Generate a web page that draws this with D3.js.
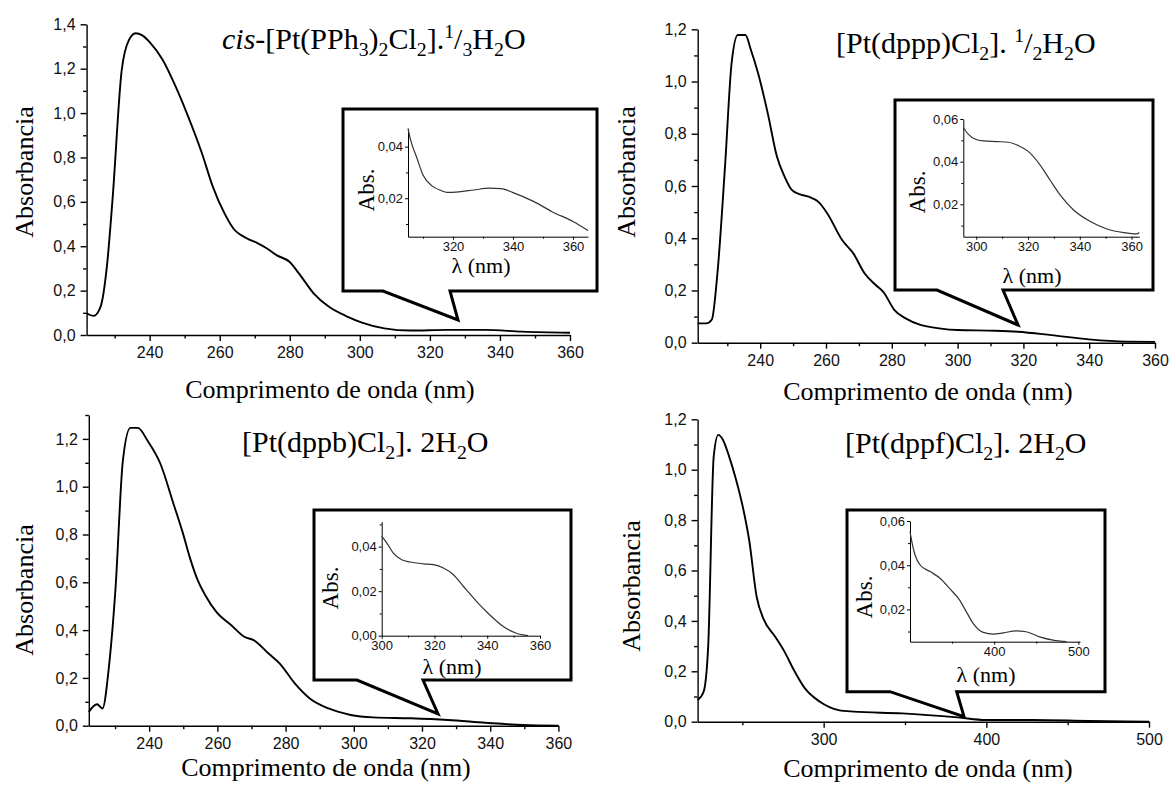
<!DOCTYPE html>
<html>
<head>
<meta charset="utf-8">
<script src="https://cdn.jsdelivr.net/npm/d3@7"></script>
<style>
  html, body { margin: 0; padding: 0; background: #ffffff; }
  svg { display: block; }
</style>
</head>
<body>
<svg id="chart" width="1170" height="785"></svg>
<script>
// ---------------- DATA ----------------
// Panel 1: cis-[Pt(PPh3)2Cl2]
const p1Wave = [222, 224, 226, 227.8, 229.4, 232, 234.1, 236, 237.9, 240, 243.7, 247.4, 250.6, 254.9, 258, 261.3, 263.9, 267.7, 270.9, 273.5, 276.2, 279.9, 282.6, 286.8, 291.1, 296.4, 300.6, 307, 314.5, 325, 335.7, 346.4, 360];
const p1Abs  = [0.098, 0.086, 0.128, 0.31, 0.61, 1.19, 1.33, 1.36, 1.35, 1.32, 1.24, 1.12, 1.0, 0.82, 0.67, 0.55, 0.48, 0.436, 0.413, 0.39, 0.36, 0.33, 0.278, 0.188, 0.128, 0.083, 0.056, 0.03, 0.02, 0.023, 0.023, 0.015, 0.01];
const p1InsetWave = [305, 306, 308, 310, 313, 316, 318, 321, 327, 332, 336, 340, 347, 353, 360, 365];
const p1InsetAbs  = [0.047, 0.042, 0.0355, 0.029, 0.0248, 0.023, 0.0223, 0.0224, 0.0232, 0.0239, 0.0237, 0.0222, 0.0187, 0.0148, 0.011, 0.0075];

// Panel 2: [Pt(dppp)Cl2]
const p2Wave = [221, 223.6, 225.3, 227, 229.3, 231.3, 233.2, 235.5, 237.2, 239.4, 242.3, 245.1, 247.4, 249.6, 251.9, 254.7, 257.6, 260.4, 264.9, 268.3, 271.7, 275.1, 277.4, 280.8, 284.2, 288.7, 294.4, 300, 311.5, 318.3, 328.5, 339.9, 351.2, 360];
const p2Abs  = [0.074, 0.074, 0.089, 0.266, 0.674, 1.07, 1.178, 1.178, 1.12, 1.03, 0.878, 0.712, 0.636, 0.585, 0.569, 0.559, 0.54, 0.495, 0.393, 0.342, 0.266, 0.221, 0.195, 0.125, 0.093, 0.068, 0.055, 0.0485, 0.046, 0.042, 0.029, 0.0128, 0.004, 0.003];
const p2InsetWave = [295, 297, 299.5, 302.7, 308, 312.4, 316.3, 320.2, 324.7, 328.5, 332.4, 337.6, 344.1, 350.5, 357, 362, 363];
const p2InsetAbs  = [0.056, 0.0528, 0.0506, 0.0497, 0.0494, 0.0491, 0.0475, 0.0447, 0.0384, 0.0314, 0.0244, 0.0173, 0.0119, 0.0084, 0.0067, 0.0061, 0.0068];

// Panel 3: [Pt(dppb)Cl2]
const p3Wave = [222.3, 224.7, 226.3, 228.3, 230.1, 232.3, 234.5, 236.7, 239.5, 243.3, 247.1, 249.8, 252, 254.2, 256.5, 259.7, 264.1, 267.9, 270.6, 275, 278.3, 282.7, 287.1, 292.6, 299.1, 305.7, 316.7, 327.6, 338.6, 349.5, 360];
const p3Abs  = [0.058, 0.09, 0.072, 0.26, 0.567, 1.11, 1.246, 1.246, 1.193, 1.096, 0.93, 0.81, 0.7, 0.61, 0.545, 0.476, 0.42, 0.372, 0.358, 0.302, 0.26, 0.177, 0.114, 0.072, 0.045, 0.035, 0.031, 0.024, 0.0125, 0.003, 0.0];
const p3InsetWave = [300, 301.9, 304.4, 307.6, 310.7, 315.8, 319.6, 323.4, 327.2, 331, 336, 341, 346.1, 351.1, 355.5];
const p3InsetAbs  = [0.0447, 0.0417, 0.0371, 0.0341, 0.0331, 0.0323, 0.0319, 0.0304, 0.0274, 0.0221, 0.0153, 0.0093, 0.0041, 0.0011, 0.0];

// Panel 4: [Pt(dppf)Cl2]
const p4Wave = [222.5, 226.2, 229, 232.4, 235.2, 238.1, 241.6, 246.2, 250.7, 254.2, 258.8, 263.3, 270.2, 275.9, 281.7, 288.5, 297.7, 309.2, 318.3, 348.1, 382.5, 399.7, 428.4, 462.8, 500];
const p4Abs  = [0.086, 0.119, 0.298, 1.052, 1.138, 1.118, 1.058, 0.959, 0.84, 0.721, 0.496, 0.404, 0.337, 0.278, 0.205, 0.132, 0.079, 0.046, 0.04, 0.033, 0.017, 0.0066, 0.0066, 0.003, 0.0];
const p4InsetWave = [300, 303, 306, 312, 324, 336, 347, 359, 367, 375, 387, 399, 411, 426, 438, 454, 470, 486];
const p4InsetAbs  = [0.0552, 0.0491, 0.0446, 0.0401, 0.0371, 0.034, 0.0295, 0.0242, 0.0189, 0.0137, 0.0096, 0.0088, 0.0094, 0.0103, 0.0099, 0.0076, 0.0061, 0.0054];

// Tick values
const xTicksNarrow = [240, 260, 280, 300, 320, 340, 360];
const xMinorNarrow = [230, 250, 270, 290, 310, 330, 350];
const xTicksWide   = [300, 400, 500];
const xMinorWide   = [250, 350, 450];
const yTicks14 = [0, 0.2, 0.4, 0.6, 0.8, 1.0, 1.2, 1.4];
const yMinor14 = [0.1, 0.3, 0.5, 0.7, 0.9, 1.1, 1.3];
const yTicks12 = [0, 0.2, 0.4, 0.6, 0.8, 1.0, 1.2];
const yMinor12 = [0.1, 0.3, 0.5, 0.7, 0.9, 1.1];
const yMinor13 = [0.1, 0.3, 0.5, 0.7, 0.9, 1.1, 1.3];
const insetX1Ticks = [320, 340, 360];
const insetX1Minor = [310, 330, 350];
const insetXTicks = [300, 320, 340, 360];
const insetXMinor = [310, 330, 350];
const insetX4Ticks = [400, 500];
const insetX4Minor = [350, 450];
const insetY1Ticks = [0.02, 0.04];
const insetY1Minor = [0.01, 0.03];
const insetY2Ticks = [0.02, 0.04, 0.06];
const insetY2Minor = [0.01, 0.03, 0.05];
const insetY3Ticks = [0.00, 0.02, 0.04];
const insetY3Minor = [0.01, 0.03, 0.05];

// Text
const yTitle = "Absorbancia";
const xTitle = "Comprimento de onda (nm)";
const insetYTitle = "Abs.";
const insetXTitle = "\u03BB (nm)";
const p1Title = [["cis","i"],["-[Pt(PPh","n"],["3","sub"],[")","n"],["2","sub"],["Cl","n"],["2","sub"],["].","n"],["1","sup"],["/","n"],["3","sub"],["H","n"],["2","sub"],["O","n"]];
const p2Title = [["[Pt(dppp)Cl","n"],["2","sub"],["]. ","n"],["1","sup"],["/","n"],["2","sub"],["H","n"],["2","sub"],["O","n"]];
const p3Title = [["[Pt(dppb)Cl","n"],["2","sub"],["]. 2H","n"],["2","sub"],["O","n"]];
const p4Title = [["[Pt(dppf)Cl","n"],["2","sub"],["]. 2H","n"],["2","sub"],["O","n"]];

// ---------------- LAYOUT ----------------
const SERIF = "'Liberation Serif', 'Times New Roman', serif";
const SANS = "'Liberation Sans', Arial, sans-serif";

const panels = [
  { wave: p1Wave, abs: p1Abs, xDom: [222, 360], yDom: [0, 1.4],
    xT: xTicksNarrow, xM: xMinorNarrow, yT: yTicks14, yM: yMinor14,
    L: 86.6, R: 570, T: 24.3, B: 335,
    title: p1Title, titleX: 222, titleY: 49,
    yTitleX: 24, yTitleY: 172, xTitleX: 330, xTitleY: 398,
    inset: { wave: p1InsetWave, abs: p1InsetAbs, xDom: [305, 365], yDom: [0.0051, 0.0471],
      xT: insetX1Ticks, xM: insetX1Minor, yT: insetY1Ticks, yM: insetY1Minor,
      box: [343, 109, 597, 291], tail: [383, 458, 320, 450],
      L: 408, R: 588, T: 128.3, B: 236.7,
      absX: 366, absY: 190, lamX: 481, lamY: 273 } },
  { wave: p2Wave, abs: p2Abs, xDom: [221, 360], yDom: [0, 1.2],
    xT: xTicksNarrow, xM: xMinorNarrow, yT: yTicks12, yM: yMinor12,
    L: 697.7, R: 1155, T: 29.3, B: 342.7,
    title: p2Title, titleX: 836, titleY: 53,
    yTitleX: 626, yTitleY: 172, xTitleX: 928, xTitleY: 400,
    inset: { wave: p2InsetWave, abs: p2InsetAbs, xDom: [295, 363], yDom: [0.0048, 0.06],
      xT: insetXTicks, xM: insetXMinor, yT: insetY2Ticks, yM: insetY2Minor,
      box: [895, 100, 1153, 290], tail: [937, 1018, 325, 1003],
      L: 963.3, R: 1139.3, T: 119, B: 236.7,
      absX: 917, absY: 192, lamX: 1032, lamY: 283 } },
  { wave: p3Wave, abs: p3Abs, xDom: [222.3, 360], yDom: [0, 1.3],
    xT: xTicksNarrow, xM: xMinorNarrow, yT: yTicks12, yM: yMinor13,
    L: 88.8, R: 558.4, T: 415, B: 725.7,
    title: p3Title, titleX: 242, titleY: 452,
    yTitleX: 24, yTitleY: 590, xTitleX: 326, xTitleY: 776,
    inset: { wave: p3InsetWave, abs: p3InsetAbs, xDom: [300, 360], yDom: [0, 0.0512],
      xT: insetXTicks, xM: insetXMinor, yT: insetY3Ticks, yM: insetY3Minor,
      box: [314, 510, 571, 680], tail: [357, 438, 714, 423],
      L: 381.7, R: 540, T: 521.7, B: 635.7,
      absX: 330.5, absY: 588, lamX: 452, lamY: 674 } },
  { wave: p4Wave, abs: p4Abs, xDom: [222.5, 500], yDom: [0, 1.2],
    xT: xTicksWide, xM: xMinorWide, yT: yTicks12, yM: yMinor12,
    L: 697.6, R: 1149, T: 419.3, B: 721.7,
    title: p4Title, titleX: 845, titleY: 453,
    yTitleX: 631.7, yTitleY: 586, xTitleX: 928, xTitleY: 777,
    inset: { wave: p4InsetWave, abs: p4InsetAbs, xDom: [300, 502], yDom: [0.0054, 0.06],
      xT: insetX4Ticks, xM: insetX4Minor, yT: insetY2Ticks, yM: insetY2Minor,
      box: [847, 510, 1105, 691.7], tail: [890, 964, 716.7, 956.7],
      L: 910, R: 1080, T: 521, B: 641.7,
      absX: 864, absY: 597, lamX: 986, lamY: 682 } }
];

const svg = d3.select("#chart");
svg.append("rect").attr("width", 1170).attr("height", 785).attr("fill", "#ffffff");

const fmt1 = d => d3.format(".1f")(d).replace(".", ",");
const fmt2 = d => d3.format(".2f")(d).replace(".", ",");

function richText(g, x, y, size, segs) {
  const t = g.append("text").attr("x", x).attr("y", y)
    .attr("font-family", SERIF).attr("font-size", size).attr("fill", "#000");
  let cur = 0;
  segs.forEach(([s, k]) => {
    const target = k === "sub" ? 0.22 * size : (k === "sup" ? -0.36 * size : 0);
    const ts = t.append("tspan").text(s).attr("dy", target - cur);
    cur = target;
    if (k === "sub" || k === "sup") ts.attr("font-size", size * 0.66);
    if (k === "i") ts.attr("font-style", "italic");
  });
  return t;
}

function drawAxes(g, p, opt) {
  const x = d3.scaleLinear().domain(p.xDom).range([p.L, p.R]);
  const y = d3.scaleLinear().domain(p.yDom).range([p.B, p.T]);
  // minor ticks
  g.append("g").attr("transform", `translate(0,${p.B})`)
    .call(d3.axisBottom(x).tickValues(p.xM).tickSize(opt.minor).tickSizeOuter(0).tickFormat(""))
    .call(s => s.select(".domain").remove())
    .call(s => s.selectAll("line").attr("stroke", "#000").attr("stroke-width", opt.sw));
  g.append("g").attr("transform", `translate(${p.L},0)`)
    .call(d3.axisLeft(y).tickValues(p.yM).tickSize(opt.minor).tickSizeOuter(0).tickFormat(""))
    .call(s => s.select(".domain").remove())
    .call(s => s.selectAll("line").attr("stroke", "#000").attr("stroke-width", opt.sw));
  // major ticks
  const gx = g.append("g").attr("transform", `translate(0,${p.B})`)
    .call(d3.axisBottom(x).tickValues(p.xT).tickSize(opt.major).tickSizeOuter(0).tickPadding(opt.padX).tickFormat(d => d));
  const gy = g.append("g").attr("transform", `translate(${p.L},0)`)
    .call(d3.axisLeft(y).tickValues(p.yT).tickSize(opt.major).tickSizeOuter(0).tickPadding(opt.padY).tickFormat(opt.fmt));
  [gx, gy].forEach(a => {
    a.select(".domain").attr("stroke", "#000").attr("stroke-width", opt.sw);
    a.selectAll("line").attr("stroke", "#000").attr("stroke-width", opt.sw);
    a.selectAll("text").attr("font-family", SANS).attr("font-size", opt.fs).attr("fill", "#111");
  });
  return { x, y };
}

panels.forEach(p => {
  const g = svg.append("g");
  const { x, y } = drawAxes(g, p, { major: 6, minor: 3.5, padX: 6, padY: 5, sw: 1.4, fs: 16, fmt: fmt1 });

  const line = d3.line().x((d, i) => x(p.wave[i])).y(d => y(d)).curve(d3.curveMonotoneX);
  g.append("path").attr("d", line(p.abs)).attr("fill", "none")
    .attr("stroke", "#000").attr("stroke-width", 1.9).attr("stroke-linejoin", "round");

  // titles
  richText(g, p.titleX, p.titleY, 30, p.title);
  g.append("text").attr("transform", `translate(${p.yTitleX},${p.yTitleY}) rotate(-90)`)
    .attr("text-anchor", "middle").attr("dominant-baseline", "central")
    .attr("font-family", SERIF).attr("font-size", 26).text(yTitle);
  g.append("text").attr("x", p.xTitleX).attr("y", p.xTitleY).attr("text-anchor", "middle")
    .attr("font-family", SERIF).attr("font-size", 26).text(xTitle);

  // inset with callout
  const n = p.inset;
  const [bx0, by0, bx1, by1] = n.box;
  const [t0, tipX, tipY, t1] = n.tail;
  const callout = `M${bx0},${by0} H${bx1} V${by1} H${t1} L${tipX},${tipY} L${t0},${by1} H${bx0} Z`;
  g.append("path").attr("d", callout).attr("fill", "#ffffff")
    .attr("stroke", "#000").attr("stroke-width", 3).attr("stroke-linejoin", "miter");

  const ig = g.append("g");
  const sc = drawAxes(ig, n, { major: 3, minor: 2, padX: 2, padY: 2, sw: 1, fs: 13, fmt: fmt2 });
  const iline = d3.line().x((d, i) => sc.x(n.wave[i])).y(d => sc.y(d)).curve(d3.curveMonotoneX);
  ig.append("path").attr("d", iline(n.abs)).attr("fill", "none")
    .attr("stroke", "#333").attr("stroke-width", 1.2);
  ig.append("text").attr("transform", `translate(${n.absX},${n.absY}) rotate(-90)`)
    .attr("text-anchor", "middle").attr("dominant-baseline", "central")
    .attr("font-family", SERIF).attr("font-size", 23).text(insetYTitle);
  ig.append("text").attr("x", n.lamX).attr("y", n.lamY).attr("text-anchor", "middle")
    .attr("font-family", SERIF).attr("font-size", 22).text(insetXTitle);
});
</script>
</body>
</html>
